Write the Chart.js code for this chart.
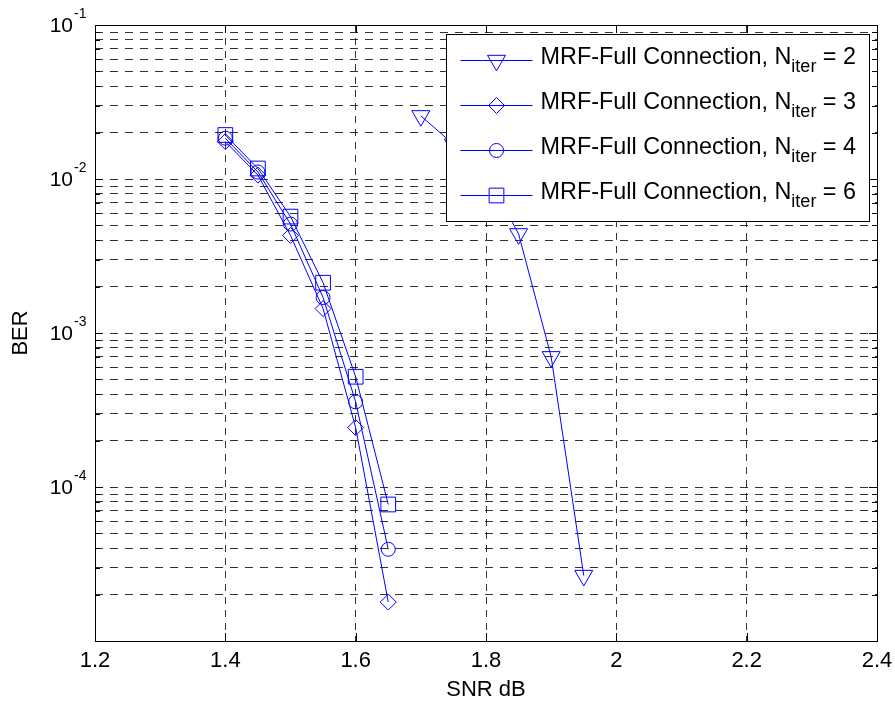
<!DOCTYPE html>
<html>
<head>
<meta charset="utf-8">
<script src="https://cdn.jsdelivr.net/npm/chart.js@4.4.1/dist/chart.umd.min.js"></script>
<style>
  html, body { margin: 0; padding: 0; background: #fff; }
  #wrap { width: 895px; height: 704px; }
</style>
</head>
<body>
<div id="wrap"><canvas id="ber_chart" width="895" height="704"></canvas></div>
<script>
// SNR points (dB)
const snr_main = [1.4, 1.45, 1.5, 1.55, 1.6, 1.65];
const snr_iter2 = [1.7, 1.75, 1.8, 1.85, 1.9, 1.95];

// BER
const ber_iter2 = [0.0257, 0.0168, 0.0108, 0.0044, 0.0007, 0.0000266];
const ber_iter3 = [0.0175, 0.0106, 0.0043, 0.00144, 0.000243, 0.0000179];
const ber_iter4 = [0.0184, 0.0111, 0.0051, 0.0017, 0.000357, 0.0000394];
const ber_iter6 = [0.0193, 0.0117, 0.0057, 0.00212, 0.00052, 0.000077];

const iter_labels = ['2', '3', '4', '6'];

// axes
const x_ticks = [1.2, 1.4, 1.6, 1.8, 2.0, 2.2, 2.4];
const x_tick_labels = ['1.2', '1.4', '1.6', '1.8', '2', '2.2', '2.4'];
const y_decades = [1e-5, 1e-4, 1e-3, 1e-2, 1e-1];
const y_label_values = [1e-4, 1e-3, 1e-2, 1e-1];   // bottom decade has no label
const y_exponents = ['-4', '-3', '-2', '-1'];
const y_minor_steps = [2, 3, 4, 5, 6, 7, 8, 9];

const FONT = '"Liberation Sans", Arial, Helvetica, sans-serif';
const BLUE = '#0000ff';

function pts(xs, ys) {
  return xs.map((x, i) => ({x: x, y: ys[i]}));
}

function make_set(xs, ys, style, radius, rot) {
  return {
    data: pts(xs, ys),
    borderColor: BLUE,
    borderWidth: 1,
    backgroundColor: 'rgba(0,0,0,0)',
    pointStyle: style,
    pointRadius: radius,
    pointRotation: rot,
    pointBorderColor: BLUE,
    pointBackgroundColor: 'rgba(0,0,0,0)',
    pointBorderWidth: 1,
    tension: 0
  };
}

// tick list for the log axis (decades + minor steps)
let y_tick_values = [];
for (let i = 0; i < y_decades.length; i++) {
  y_tick_values.push(y_decades[i]);
  if (i < y_decades.length - 1) {
    y_minor_steps.forEach(s => y_tick_values.push(s * y_decades[i]));
  }
}

// draws box, inward ticks, y labels with exponents and the legend
const matlab_look = {
  id: 'matlab_look',
  afterDraw(chart) {
    const ctx = chart.ctx;
    const a = chart.chartArea;
    const xs = chart.scales.x, ys = chart.scales.y;
    ctx.save();
    ctx.strokeStyle = '#000';
    ctx.lineWidth = 1;
    ctx.setLineDash([]);

    // inward tick marks
    ctx.beginPath();
    x_ticks.forEach(v => {
      const px = Math.round(xs.getPixelForValue(v)) + 0.5;
      ctx.moveTo(px, a.bottom); ctx.lineTo(px, a.bottom - 8);
      ctx.moveTo(px, a.top); ctx.lineTo(px, a.top + 8);
    });
    y_tick_values.forEach(v => {
      const py = Math.round(ys.getPixelForValue(v)) + 0.5;
      const len = y_decades.includes(v) ? 8 : 5;
      ctx.moveTo(a.left, py); ctx.lineTo(a.left + len, py);
      ctx.moveTo(a.right, py); ctx.lineTo(a.right - len, py);
    });
    ctx.stroke();

    // axes box
    ctx.strokeRect(Math.round(a.left) + 0.5, Math.round(a.top) + 0.5,
      Math.round(a.right - a.left), Math.round(a.bottom - a.top));

    // y tick labels 10^k
    ctx.fillStyle = '#000';
    ctx.textBaseline = 'alphabetic';
    y_label_values.forEach((v, i) => {
      const py = ys.getPixelForValue(v);
      ctx.font = '21px ' + FONT;
      ctx.textAlign = 'right';
      ctx.fillText('10', 73, py + 7);
      ctx.font = '14px ' + FONT;
      ctx.textAlign = 'left';
      ctx.fillText(y_exponents[i], 74, py - 7);
    });

    // legend
    const lw = 423, lh = 187;
    const lx = Math.round(a.right - 8 - lw) + 0.5;
    const ly = Math.round(a.top + 9) + 0.5;
    ctx.fillStyle = '#fff';
    ctx.fillRect(lx, ly, lw, lh);
    ctx.strokeStyle = '#000';
    ctx.strokeRect(lx, ly, lw, lh);

    chart.data.datasets.forEach((ds, i) => {
      const cy = ly + 26 + 45 * i;
      ctx.strokeStyle = BLUE;
      ctx.lineWidth = 1;
      ctx.beginPath();
      ctx.moveTo(lx + 14, cy);
      ctx.lineTo(lx + 86, cy);
      ctx.stroke();
      ctx.fillStyle = 'rgba(0,0,0,0)';
      Chart.helpers.drawPoint(ctx, {
        pointStyle: ds.pointStyle, rotation: ds.pointRotation,
        radius: ds.pointRadius, borderWidth: 1
      }, lx + 50, cy);

      ctx.fillStyle = '#000';
      ctx.textAlign = 'left';
      let tx = lx + 94;
      const base = cy + 3.5;
      ctx.font = '23.4px ' + FONT;
      const main = 'MRF-Full Connection, N';
      ctx.fillText(main, tx, base);
      tx += ctx.measureText(main).width;
      ctx.font = '18px ' + FONT;
      ctx.fillText('iter', tx, base + 8);
      tx += ctx.measureText('iter').width;
      ctx.font = '23.4px ' + FONT;
      ctx.fillText(' = ' + iter_labels[i], tx, base);
    });
    ctx.restore();
  }
};

const GRID = 'rgba(0,0,0,0.8)';

new Chart(document.getElementById('ber_chart'), {
  type: 'line',
  data: {
    datasets: [
      make_set(snr_iter2, ber_iter2, 'triangle', 10.4, 180),
      make_set(snr_main, ber_iter3, 'rectRot', 8, 0),
      make_set(snr_main, ber_iter4, 'circle', 7, 0),
      make_set(snr_main, ber_iter6, 'rect', 10.4, 0)
    ]
  },
  options: {
    responsive: false,
    devicePixelRatio: 1,
    animation: false,
    layout: {padding: {left: 0, right: 18, top: 25, bottom: 0}},
    plugins: {legend: {display: false}, tooltip: {enabled: false}},
    scales: {
      x: {
        type: 'linear',
        min: 1.2, max: 2.4,
        afterBuildTicks: s => { s.ticks = x_ticks.map(v => ({value: v})); },
        afterFit: s => { s.height = 63; s.paddingLeft = 0; s.paddingRight = 0; },
        ticks: {
          callback: (v) => x_tick_labels[x_ticks.findIndex(t => Math.abs(t - v) < 1e-9)],
          color: '#000',
          padding: 7,
          maxRotation: 0,
          font: {family: FONT, size: 22}
        },
        grid: {color: GRID, lineWidth: 1, drawTicks: false},
        border: {display: false, dash: [7, 6]},
        title: {display: true, text: 'SNR dB', color: '#000',
          font: {family: FONT, size: 22}, padding: {top: 0, bottom: 1}}
      },
      y: {
        type: 'logarithmic',
        min: 1e-5, max: 1e-1,
        afterBuildTicks: s => { s.ticks = y_tick_values.map(v => ({value: v})); },
        afterFit: s => { s.width = 95; },
        ticks: {display: false},
        grid: {color: GRID, lineWidth: 1, drawTicks: false},
        border: {display: false, dash: [8, 7]},
        title: {display: true, text: 'BER', color: '#000',
          font: {family: FONT, size: 22}, padding: {top: 8, bottom: 0}}
      }
    }
  },
  plugins: [matlab_look]
});
</script>
</body>
</html>
